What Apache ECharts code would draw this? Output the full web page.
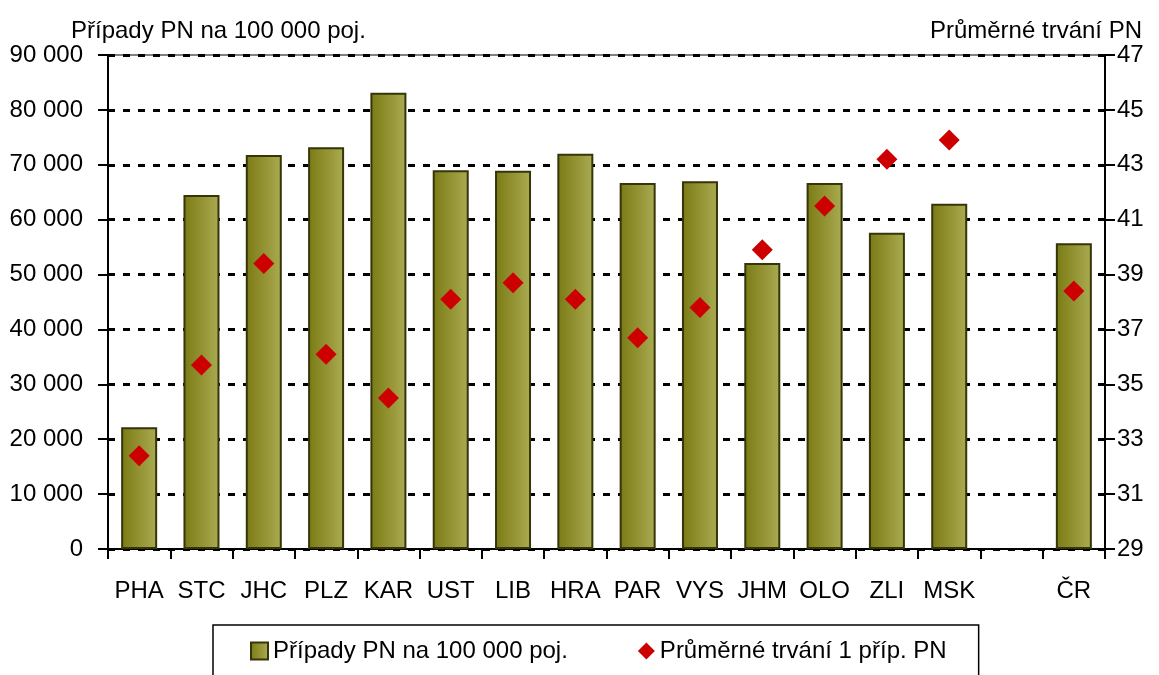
<!DOCTYPE html>
<html>
<head>
<meta charset="utf-8">
<script src="https://cdn.jsdelivr.net/npm/echarts@6/dist/echarts.min.js"></script>
<style>
  html, body { margin: 0; padding: 0; background: #fff; }
  #chart { width: 1159px; height: 675px; }
</style>
</head>
<body>
<div id="chart"></div>
<script>
// kraje + ČR (mezera před ČR je prázdná kategorie)
const regions = ['PHA', 'STC', 'JHC', 'PLZ', 'KAR', 'UST', 'LIB', 'HRA', 'PAR', 'VYS', 'JHM', 'OLO', 'ZLI', 'MSK', '', 'ČR'];
const casesPer100k = [22200, 64500, 71800, 73200, 83100, 69000, 68900, 72000, 66700, 67000, 52100, 66700, 57600, 62900, null, 55700];
const avgDuration = [32.4, 35.7, 39.4, 36.1, 34.5, 38.1, 38.7, 38.1, 36.7, 37.8, 39.9, 41.5, 43.2, 43.9, null, 38.4];
const leftTicks = { min: 0, max: 90000, step: 10000 };
const rightTicks = { min: 29, max: 47, step: 2 };

const FONT = '"Liberation Sans", Arial, sans-serif';
const txt = { fontFamily: FONT, fontSize: 24, color: '#000' };

const myChart = echarts.init(document.getElementById('chart'));

const fmtThousands = v => String(v).replace(/\B(?=(\d{3})+(?!\d))/g, ' ');

const option = {
  animation: false,
  title: [
    { text: 'Případy PN na 100 000 poj.', left: 66, top: 14, textStyle: Object.assign({ fontWeight: 'normal' }, txt) },
    { text: 'Průměrné trvání PN', right: 12, top: 14, textStyle: Object.assign({ fontWeight: 'normal' }, txt) }
  ],
  grid: {
    left: 108,
    right: 54,
    top: 55,
    bottom: 126,
    show: true,
    borderColor: '#000',
    borderWidth: 1
  },
  legend: {
    left: 213,
    top: 625,
    itemWidth: 17,
    itemHeight: 17,
    itemGap: 70,
    padding: [14, 32, 30, 37],
    borderColor: '#000',
    borderWidth: 1.5,
    textStyle: txt,
    data: [
      { name: 'Případy PN na 100 000 poj.', icon: 'rect' },
      { name: 'Průměrné trvání 1 příp. PN', icon: 'diamond' }
    ]
  },
  xAxis: {
    type: 'category',
    data: regions,
    axisLine: { lineStyle: { color: '#000', width: 2 } },
    axisTick: { show: true, length: 10, interval: 0, lineStyle: { color: '#000', width: 2 } },
    axisLabel: Object.assign({ margin: 30, interval: 0 }, txt)
  },
  yAxis: [
    {
      type: 'value',
      min: leftTicks.min,
      max: leftTicks.max,
      interval: leftTicks.step,
      axisLine: { show: true, lineStyle: { color: '#000', width: 2 } },
      axisTick: { show: true, length: 10, lineStyle: { color: '#000', width: 2 } },
      axisLabel: Object.assign({ margin: 25, formatter: fmtThousands }, txt),
      splitLine: { show: true, lineStyle: { color: '#000', width: 3, type: [7, 8] } }
    },
    {
      type: 'value',
      position: 'right',
      min: rightTicks.min,
      max: rightTicks.max,
      interval: rightTicks.step,
      axisLine: { show: true, lineStyle: { color: '#000', width: 2 } },
      axisTick: { show: true, length: 10, lineStyle: { color: '#000', width: 2 } },
      axisLabel: Object.assign({ margin: 12 }, txt),
      splitLine: { show: false }
    }
  ],
  series: [
    {
      name: 'Případy PN na 100 000 poj.',
      type: 'bar',
      yAxisIndex: 0,
      barWidth: 36,
      data: casesPer100k,
      itemStyle: {
        color: new echarts.graphic.LinearGradient(0, 0, 1, 0, [
          { offset: 0, color: '#7a7a14' },
          { offset: 1, color: '#abab52' }
        ]),
        borderColor: '#35350a',
        borderWidth: 2
      }
    },
    {
      name: 'Průměrné trvání 1 příp. PN',
      type: 'scatter',
      yAxisIndex: 1,
      symbol: 'diamond',
      symbolSize: 21,
      data: avgDuration,
      itemStyle: { color: '#cc0000', opacity: 1 }
    }
  ]
};

myChart.setOption(option);
</script>
</body>
</html>
